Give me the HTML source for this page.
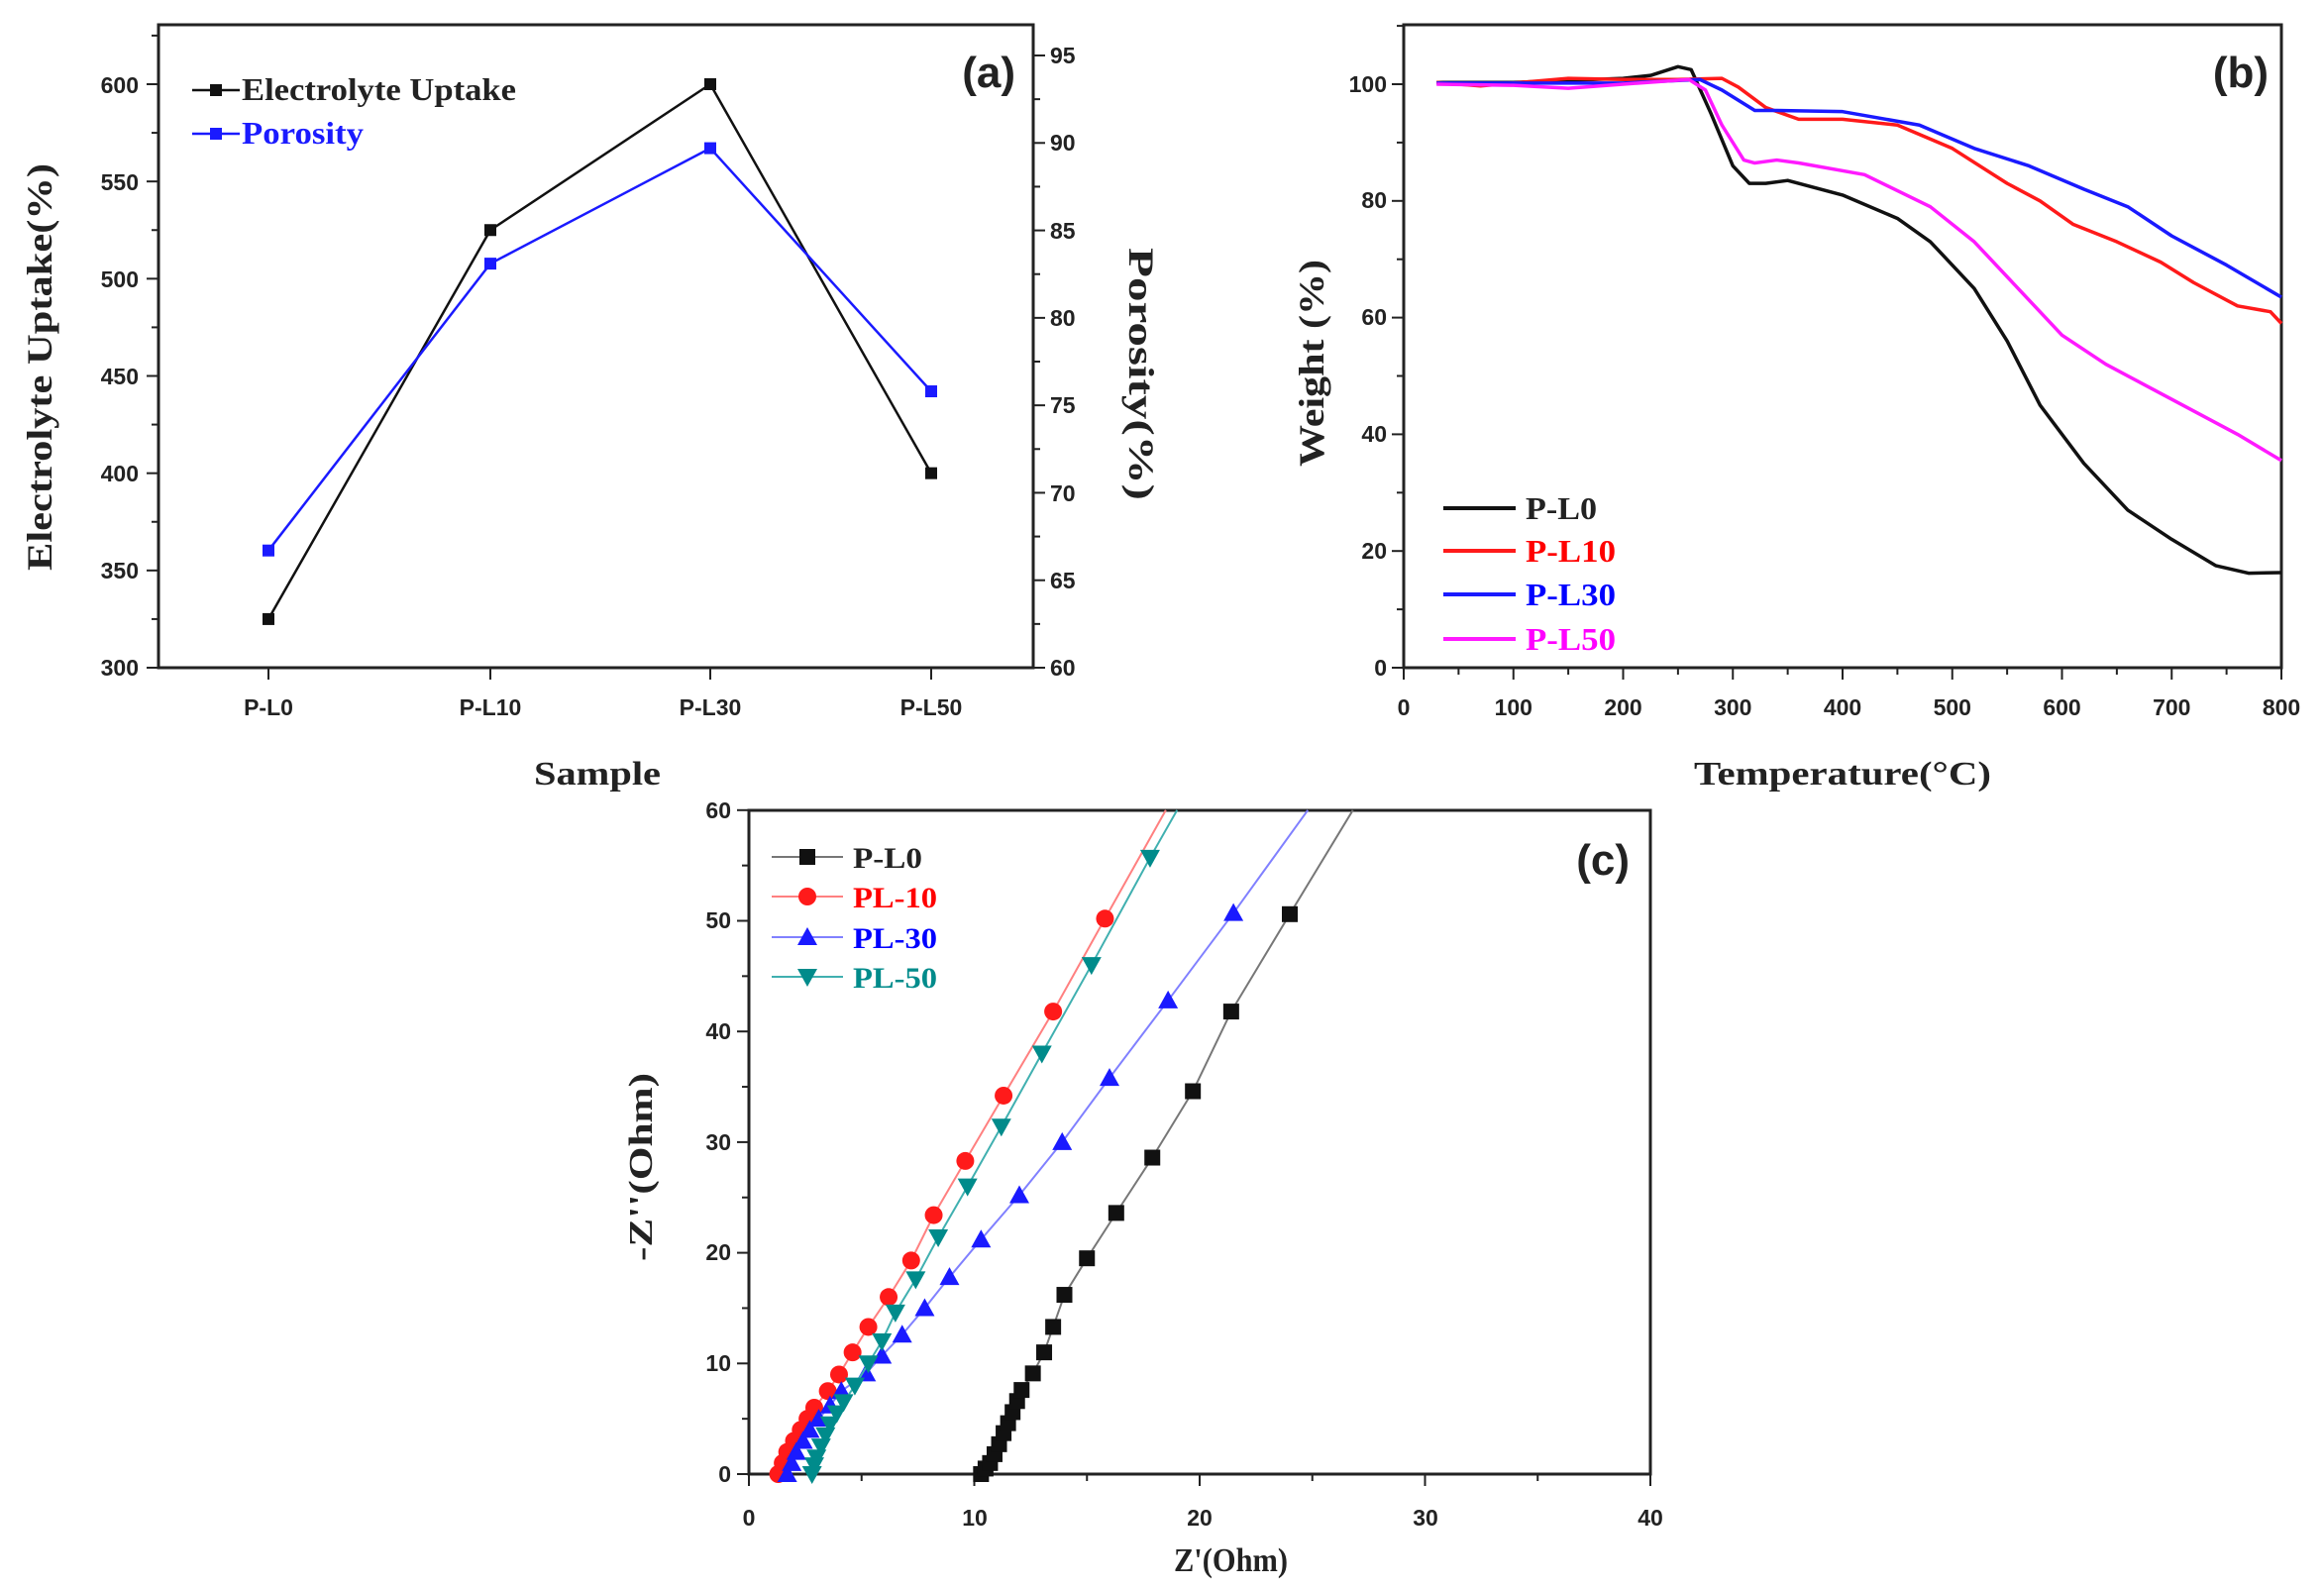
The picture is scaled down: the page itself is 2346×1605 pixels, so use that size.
<!DOCTYPE html>
<html><head><meta charset="utf-8"><style>
body{margin:0;background:#fff}
svg{display:block}
.t{font-family:"Liberation Sans",Arial,sans-serif;font-weight:bold;font-size:23px;fill:#222}
.s{font-family:"Liberation Serif",serif;font-weight:bold;fill:#222}
.big{font-size:44px}
</style></head><body>
<svg id="g" width="2346" height="1605" xmlns="http://www.w3.org/2000/svg">
<rect width="2346" height="1605" fill="#fff"/>
<g id="d"></g>
<g class="t" text-anchor="end">
<text x="140" y="682">300</text><text x="140" y="584">350</text><text x="140" y="486">400</text><text x="140" y="388">450</text><text x="140" y="290">500</text><text x="140" y="192">550</text><text x="140" y="94">600</text>
</g>
<g class="t" text-anchor="start">
<text x="1060" y="682">60</text><text x="1060" y="594">65</text><text x="1060" y="506">70</text><text x="1060" y="417">75</text><text x="1060" y="329">80</text><text x="1060" y="241">85</text><text x="1060" y="152">90</text><text x="1060" y="64">95</text>
</g>
<g class="t" text-anchor="middle">
<text x="271" y="722">P-L0</text><text x="495" y="722">P-L10</text><text x="717" y="722">P-L30</text><text x="940" y="722">P-L50</text>
</g>
<text class="s" x="539" y="792" style="font-size:34px" textLength="128" lengthAdjust="spacingAndGlyphs">Sample</text>
<text class="s" style="font-size:36px" textLength="411" lengthAdjust="spacingAndGlyphs" transform="translate(52,576) rotate(-90)">Electrolyte Uptake(%)</text>
<text class="s" style="font-size:36px" textLength="255" lengthAdjust="spacingAndGlyphs" transform="translate(1140,250) rotate(90)">Porosity(%)</text>
<text class="t big" x="1025" y="88" text-anchor="end">(a)</text>
<text class="s" x="244" y="101" style="font-size:32px" textLength="277" lengthAdjust="spacingAndGlyphs">Electrolyte Uptake</text>
<text class="s" x="244" y="145" style="font-size:32px;fill:#1a1aff" textLength="123" lengthAdjust="spacingAndGlyphs">Porosity</text>
<g class="t" text-anchor="end">
<text x="1400" y="682">0</text><text x="1400" y="564">20</text><text x="1400" y="446">40</text><text x="1400" y="328">60</text><text x="1400" y="210">80</text><text x="1400" y="93">100</text>
</g>
<g class="t" text-anchor="middle" id="bx"></g>
<text class="s" x="1710" y="792" style="font-size:34px" textLength="300" lengthAdjust="spacingAndGlyphs">Temperature(°C)</text>
<text class="s" style="font-size:36px" textLength="209" lengthAdjust="spacingAndGlyphs" transform="translate(1336,471) rotate(-90)">Weight (%)</text>
<text class="t big" x="2290" y="88" text-anchor="end">(b)</text>
<g class="s" style="font-size:32px">
<text x="1540" y="524" textLength="72" lengthAdjust="spacingAndGlyphs">P-L0</text><text x="1540" y="567" style="fill:#f00" textLength="91" lengthAdjust="spacingAndGlyphs">P-L10</text><text x="1540" y="611" style="fill:#00f" textLength="91" lengthAdjust="spacingAndGlyphs">P-L30</text><text x="1540" y="656" style="fill:#f0f" textLength="91" lengthAdjust="spacingAndGlyphs">P-L50</text>
</g>
<g class="t" text-anchor="end">
<text x="738" y="1496">0</text><text x="738" y="1384">10</text><text x="738" y="1272">20</text><text x="738" y="1161">30</text><text x="738" y="1049">40</text><text x="738" y="937">50</text><text x="738" y="826">60</text>
</g>
<g class="t" text-anchor="middle">
<text x="756" y="1540">0</text><text x="984" y="1540">10</text><text x="1211" y="1540">20</text><text x="1439" y="1540">30</text><text x="1666" y="1540">40</text>
</g>
<text class="s" x="1185" y="1586" style="font-size:34px" textLength="115" lengthAdjust="spacingAndGlyphs">Z'(Ohm)</text>
<text class="s" style="font-size:34px" textLength="190" lengthAdjust="spacingAndGlyphs" transform="translate(658,1273) rotate(-90)">-Z''(Ohm)</text>
<text class="t big" x="1645" y="883" text-anchor="end">(c)</text>
<g class="s" style="font-size:30px">
<text x="861" y="876" textLength="70" lengthAdjust="spacingAndGlyphs">P-L0</text><text x="861" y="916" style="fill:#f00" textLength="85" lengthAdjust="spacingAndGlyphs">PL-10</text><text x="861" y="957" style="fill:#00f" textLength="85" lengthAdjust="spacingAndGlyphs">PL-30</text><text x="861" y="997" style="fill:#008b8b" textLength="85" lengthAdjust="spacingAndGlyphs">PL-50</text>
</g>
</svg>
<script>
var NS="http://www.w3.org/2000/svg",D=document.getElementById("d");
function el(t,a){var e=document.createElementNS(NS,t);for(var k in a)e.setAttribute(k,a[k]);D.appendChild(e);return e;}
function line(x1,y1,x2,y2,c,w){el("line",{x1:x1,y1:y1,x2:x2,y2:y2,stroke:c||"#222","stroke-width":w||2});}
function poly(pts,c,w){el("polyline",{points:pts.map(p=>p.join(",")).join(" "),fill:"none",stroke:c,"stroke-width":w,"stroke-linejoin":"round"});}
var L=160,R=1043,T=25,B=674;
el("rect",{x:L,y:T,width:R-L,height:B-T,fill:"none",stroke:"#222","stroke-width":3});
function ya(v){return 674-(v-300)*589/300;}
function yr(v){return 674-(v-60)*618/35;}
for(var v=300;v<=625;v+=25)line(L,ya(v),L-(v%50?7:12),ya(v));
for(var v=60;v<=95;v+=2.5)line(R,yr(v),R+(v%5?7:12),yr(v));
var xs=[271,495,717,940];xs.forEach(x=>line(x,B,x,B+12));
var eu=[325,525,600,400],po=[66.7,83.1,89.7,75.8];
poly(xs.map((x,i)=>[x,ya(eu[i])]),"#111",2.5);
poly(xs.map((x,i)=>[x,yr(po[i])]),"#1a1aff",2.5);
xs.forEach((x,i)=>{el("rect",{x:x-6,y:ya(eu[i])-6,width:12,height:12,fill:"#111"});el("rect",{x:x-6,y:yr(po[i])-6,width:12,height:12,fill:"#1a1aff"});});
line(194,91,242,91,"#111",2.5);el("rect",{x:212,y:85,width:12,height:12,fill:"#111"});
line(194,135,242,135,"#1a1aff",2.5);el("rect",{x:212,y:129,width:12,height:12,fill:"#1a1aff"});
L=1417;R=2303;
el("rect",{x:L,y:T,width:R-L,height:B-T,fill:"none",stroke:"#222","stroke-width":3});
function xb(t){return L+t*(R-L)/800;} function yb(w){return 674-w*5.89;}
for(var t=0;t<=800;t+=50)line(xb(t),B,xb(t),B+(t%100?7:12));
for(var w=0;w<=110;w+=10)line(L,yb(w),L-(w%20?7:12),yb(w));
var bx=document.getElementById("bx");
for(var t=0;t<=800;t+=100){var tx=document.createElementNS(NS,"text");tx.setAttribute("x",xb(t));tx.setAttribute("y",722);tx.textContent=t;bx.appendChild(tx);}
var S={
"#111":[[30,100.3],[100,100.3],[200,101],[225,101.5],[250,103],[262,102.5],[280,95],[300,86],[315,83],[330,83],[350,83.5],[400,81],[450,77],[480,73],[520,65],[550,56],[580,45],[620,35],[660,27],[700,22],[740,17.5],[770,16.2],[800,16.3]],
"#ff1a1a":[[30,100.3],[70,99.7],[100,100.2],[150,101],[200,100.8],[250,100.8],[290,101],[305,99.5],[330,96],[360,94],[400,94],[450,93],[500,89],[550,83],[580,80],[610,76],[650,73],[690,69.5],[720,66],[760,62],[790,61],[800,59]],
"#1a1aff":[[30,100.2],[100,100.2],[200,100.2],[270,100.8],[290,99],[320,95.5],[340,95.5],[400,95.3],[470,93],[520,89],[570,86],[620,82],[660,79],[700,74],[750,69],[800,63.5]],
"#ff1aff":[[30,100],[100,99.8],[150,99.3],[200,100],[260,100.8],[275,99],[290,93],[310,87],[320,86.5],[340,87],[360,86.5],[420,84.5],[480,79],[520,73],[560,65],[600,57],[640,52],[700,46],[760,40],[800,35.5]]};
for(var c in S)poly(S[c].map(p=>[xb(p[0]),yb(p[1])]),c,3.5);
[["#111",513],["#ff1a1a",556],["#1a1aff",600],["#ff1aff",645]].forEach(a=>line(1457,a[1],1530,a[1],a[0],4));
L=756;R=1666;T=818;B=1488;
el("rect",{x:L,y:T,width:R-L,height:B-T,fill:"none",stroke:"#222","stroke-width":3});
function xc(v){return L+v*22.75;} function yc(v){return B-v*11.17;}
for(var v=0;v<=40;v+=5)line(xc(v),B,xc(v),B+(v%10?7:12));
for(var v=0;v<=60;v+=5)line(L,yc(v),L-(v%10?7:12),yc(v));
function mk(x,y,c,m){
 if(m==0)el("rect",{x:x-8,y:y-8,width:16,height:16,fill:c});
 else if(m==1)el("circle",{cx:x,cy:y,r:9,fill:c});
 else if(m==2)el("polygon",{points:(x)+","+(y-10)+" "+(x-10)+","+(y+8)+" "+(x+10)+","+(y+8),fill:c});
 else el("polygon",{points:(x)+","+(y+10)+" "+(x-10)+","+(y-8)+" "+(x+10)+","+(y-8),fill:c});
}
var C=[
["#111","#777",0,[[10.3,0],[10.5,0.5],[10.7,1],[10.9,1.8],[11.1,2.7],[11.3,3.7],[11.5,4.6],[11.7,5.6],[11.9,6.6],[12.1,7.6],[12.6,9.1],[13.1,11],[13.5,13.3],[14,16.2],[15,19.5],[16.3,23.6],[17.9,28.6],[19.7,34.6],[21.4,41.8],[24,50.6]],[26.8,60]],
["#ff1a1a","#ff8080",1,[[1.3,0],[1.5,1],[1.7,2],[2,3],[2.3,4],[2.6,5],[2.9,6],[3.5,7.5],[4,9],[4.6,11],[5.3,13.3],[6.2,16],[7.2,19.3],[8.2,23.4],[9.6,28.3],[11.3,34.2],[13.5,41.8],[15.8,50.2]],[18.5,60]],
["#1a1aff","#8080ff",2,[[1.7,0],[1.9,1],[2.1,2],[2.4,3],[2.7,4],[3.1,5],[3.6,6.2],[4.1,7.5],[5.2,9.1],[5.9,10.7],[6.8,12.6],[7.8,15],[8.9,17.8],[10.3,21.2],[12,25.2],[13.9,30],[16,35.8],[18.6,42.8],[21.5,50.7]],[24.8,60]],
["#008b8b","#40b0b0",3,[[2.8,0],[2.9,0.8],[3,1.5],[3.2,2.5],[3.4,3.5],[3.6,4.5],[3.9,5.5],[4.2,6.5],[4.7,8],[5.3,10],[5.9,12],[6.5,14.6],[7.4,17.6],[8.4,21.4],[9.7,26],[11.2,31.4],[13,38],[15.2,46],[17.8,55.7]],[19,60]]];
C.forEach(s=>{var pts=s[3].concat([s[4]]).map(p=>[xc(p[0]),yc(p[1])]);poly(pts,s[1],2);s[3].forEach(p=>mk(xc(p[0]),yc(p[1]),s[0],s[2]));});
[[865,0],[905,1],[946,2],[986,3]].forEach((a,i)=>{line(779,a[0],851,a[0],C[i][1],2);mk(815,a[0],C[i][0],a[1]);});
</script>
</body></html>
